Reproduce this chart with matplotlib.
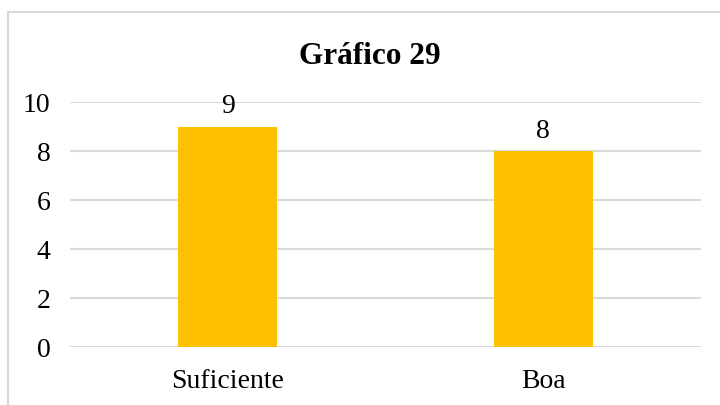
import matplotlib
matplotlib.use("Agg")
import matplotlib.pyplot as plt
from matplotlib.patches import Rectangle

categories = ["Suficiente", "Boa"]
values = [9, 8]
yticks = [0, 2, 4, 6, 8, 10]

plt.rcParams['font.family'] = ['Liberation Serif', 'DejaVu Serif']

fig = plt.figure(figsize=(7.2, 4.06), dpi=100)
W, H = 720, 406
ax = fig.add_axes([70 / W, 1 - 348 / H, (701 - 70) / W, (348 - 103) / H])

x = list(range(len(categories)))
bars = ax.bar(x, values, width=0.314, color='#FFC000', zorder=3)
ax.set_xlim(-0.5, len(categories) - 0.5)
ax.set_ylim(0, 10)
ax.set_yticks(yticks)
ax.set_yticklabels([str(t) for t in yticks], fontsize=20)
ax.set_xticks(x)
ax.set_xticklabels(categories, fontsize=20)
ax.tick_params(axis='both', length=0)
ax.tick_params(axis='y', pad=14)
ax.tick_params(axis='x', pad=15)
ax.grid(axis='y', color='#d9d9d9', linewidth=1.5, zorder=0)
for s in ax.spines.values():
    s.set_visible(False)
ax.set_axisbelow(True)

for xi, v in zip(x, values):
    ax.annotate(str(v), (xi, v), xytext=(0, 6), textcoords='offset points',
                ha='center', va='bottom', fontsize=20)

fig.text(370 / W, 1 - 56 / H, "Gráfico 29", ha='center', va='center',
         fontsize=22.5, fontweight='bold')

# chart border
fig.patches.append(Rectangle((8 / W, -0.1), 1.2, 1 - 13 / H + 0.1,
                             transform=fig.transFigure, fill=False,
                             edgecolor='#d9d9d9', linewidth=1.5))

fig.savefig("out.png", dpi=100)
